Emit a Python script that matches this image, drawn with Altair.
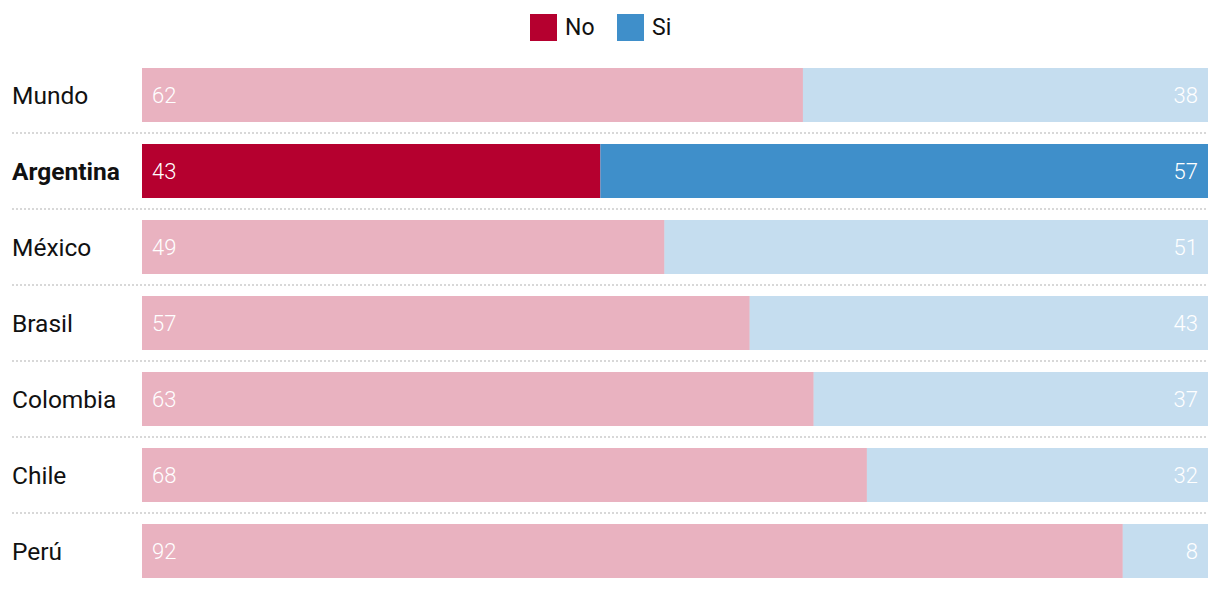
import altair as alt
import pandas as pd

paises = ["Mundo", "Argentina", "México", "Brasil", "Colombia", "Chile", "Perú"]
no_vals = [62, 43, 49, 57, 63, 68, 92]
si_vals = [38, 57, 51, 43, 37, 32, 8]
destacado = "Argentina"
series = ["No", "Si"]
colores = ["#B5002F", "#3F8FCA"]

rows = []
for p, n, s in zip(paises, no_vals, si_vals):
    hl = p == destacado
    rows.append({"pais": p, "serie": "No", "valor": n, "ini": 0, "fin": n, "hl": hl})
    rows.append({"pais": p, "serie": "Si", "valor": s, "ini": n, "fin": n + s, "hl": hl})
df = pd.DataFrame(rows)
df_p = pd.DataFrame({"pais": paises, "hl": [p == destacado for p in paises]})
df_sep = pd.DataFrame({"pais": paises[:-1]})

W, H = 1066, 532
yscale = alt.Scale(domain=paises, paddingInner=0.29, paddingOuter=0.145)
y = alt.Y("pais:N", scale=yscale, axis=None)
xs = alt.Scale(domain=[0, 100], nice=False, zero=True)

bars = alt.Chart(df).mark_bar(cornerRadius=0).encode(
    y=y,
    x=alt.X("ini:Q", scale=xs, axis=None),
    x2="fin:Q",
    color=alt.Color(
        "serie:N",
        scale=alt.Scale(domain=series, range=colores),
        legend=alt.Legend(
            title=None, orient="none", direction="horizontal",
            legendX=388, legendY=-43,
            symbolType="square", symbolSize=729, symbolStrokeWidth=0,
            symbolOpacity=1,
            labelFontSize=23, labelFont="Roboto", labelColor="#111",
            labelOffset=8, columnPadding=22, padding=0,
        ),
    ),
    opacity=alt.condition("datum.hl", alt.value(1), alt.value(0.3)),
)

lbl_no = alt.Chart(df[df.serie == "No"]).mark_text(
    align="left", baseline="middle", dx=10, dy=1, fontSize=22, font="Roboto",
    fontWeight=300, color="white",
).encode(y=y, x=alt.X("ini:Q", scale=xs, axis=None), text="valor:Q")

lbl_si = alt.Chart(df[df.serie == "Si"]).mark_text(
    align="right", baseline="middle", dx=-10, dy=1, fontSize=22, font="Roboto",
    fontWeight=300, color="white",
).encode(y=y, x=alt.X("fin:Q", scale=xs, axis=None), text="valor:Q")

paises_norm = alt.Chart(df_p[~df_p.hl]).mark_text(
    align="left", baseline="middle", dy=2, fontSize=24.5, font="Roboto", color="#111",
).encode(y=y, x=alt.value(-130), text="pais:N")

paises_bold = alt.Chart(df_p[df_p.hl]).mark_text(
    align="left", baseline="middle", dy=2, fontSize=24.5, font="Roboto", color="#111",
    fontWeight="bold",
).encode(y=y, x=alt.value(-130), text="pais:N")

sep = alt.Chart(df_sep).mark_rule(
    color="#cccccc", strokeDash=[2, 2], strokeWidth=1.5, yOffset=11,
).encode(
    y=alt.Y("pais:N", scale=yscale, axis=None, bandPosition=1),
    x=alt.value(-130),
    x2=alt.value(W),
)

chart = alt.layer(sep, bars, lbl_no, lbl_si, paises_norm, paises_bold).properties(
    width=W, height=H,
    autosize=alt.AutoSizeParams(type="none"),
    padding={"left": 134, "top": 49, "right": 4, "bottom": 0},
).configure_view(stroke=None)

chart.save("out.html", embed_options={"renderer": "svg", "actions": False})
